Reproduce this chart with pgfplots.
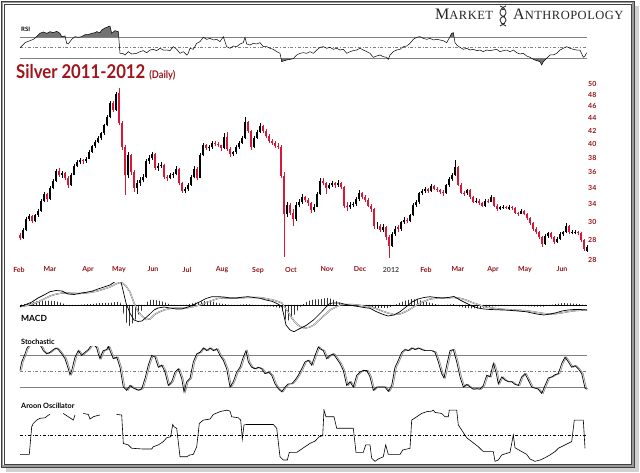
\documentclass[border=0pt]{standalone}
\usepackage{graphicx}
\usepackage{pgfplots}
\pgfplotsset{compat=1.18}
\usepackage{pgfplotstable}
\usepackage{fontspec}
\usetikzlibrary{patterns}
\newfontfamily\lato{Lato}
\newfontfamily\libser{Liberation Serif}
\definecolor{titlered}{RGB}{160,22,28}
\definecolor{tickred}{RGB}{150,20,25}
\definecolor{candlered}{RGB}{215,25,55}

\pgfplotstableread{
x o h l c
20 28.5 28.7 28.0 28.2
23 28.2 29.3 28.1 29.1
26 29.1 30.5 29.0 30.3
29 30.3 30.8 30.1 30.6
32 30.6 30.7 29.8 30.0
35 30.0 30.9 29.9 30.7
38 30.7 31.4 30.5 31.2
41 31.2 32.6 31.1 32.4
44 32.4 33.5 32.2 33.2
47 33.2 33.3 32.3 32.6
50 32.6 34.2 32.5 34.0
53 34.0 35.1 33.8 34.9
56 34.9 36.5 34.8 36.2
59 36.2 36.6 35.4 35.7
62 35.7 36.2 35.3 35.9
65 35.9 36.1 35.0 35.3
68 35.3 35.5 34.0 34.3
71 34.3 35.9 34.2 35.7
74 35.7 37.1 35.6 36.9
77 36.9 37.7 36.7 37.4
80 37.4 38.0 37.1 37.7
83 37.7 37.9 37.1 37.5
86 37.5 38.1 37.3 37.9
89 37.9 39.2 37.8 38.9
92 38.9 39.9 38.7 39.7
95 39.7 40.6 39.4 40.3
98 40.3 41.2 40.1 40.9
101 40.9 41.9 40.6 41.6
104 41.6 43.1 41.4 42.9
107 42.9 44.5 42.7 44.2
110 44.2 46.9 44.0 46.6
113 46.6 47.0 45.0 45.4
116 45.4 48.6 45.2 48.1
119 48.4 49.3 42.9 43.2
122 43.2 43.6 39.2 39.5
125 39.5 39.9 33.1 35.6
128 35.6 38.8 35.2 38.4
131 38.4 38.6 35.7 36.0
134 36.0 36.3 33.5 34.0
137 34.0 35.0 33.2 34.6
140 34.6 35.4 34.2 35.0
143 35.0 35.8 34.7 35.4
146 35.4 37.9 35.2 37.6
149 37.6 38.4 37.2 38.0
152 38.0 38.9 37.7 38.6
155 38.6 38.7 36.3 36.6
158 36.6 37.3 36.2 36.9
161 36.9 37.4 36.6 37.0
164 37.0 37.1 35.1 35.4
167 35.4 35.7 34.9 35.3
170 35.3 35.9 35.1 35.6
173 35.6 36.1 35.3 35.8
176 35.8 36.8 35.6 36.5
179 36.5 36.6 34.4 34.6
182 34.6 34.8 33.4 33.6
185 33.6 34.1 33.3 33.8
188 33.8 34.6 33.6 34.4
191 34.4 35.6 34.2 35.4
194 35.4 36.8 35.2 36.5
197 36.5 36.7 35.0 35.3
200 35.3 38.7 35.2 38.4
203 38.4 40.2 38.3 39.9
206 39.9 40.0 39.1 39.4
209 39.4 39.9 39.0 39.5
212 39.5 40.5 39.3 40.2
215 40.2 40.4 39.7 40.0
218 40.0 40.3 39.5 39.8
221 39.8 39.9 39.0 39.4
224 39.4 41.6 39.3 41.1
227 41.1 41.9 39.0 39.3
230 39.3 39.5 38.1 38.5
233 38.5 39.0 38.2 38.8
236 38.8 39.8 38.6 39.5
239 39.5 40.4 39.3 40.2
242 40.2 41.2 40.0 40.9
245 40.9 44.2 40.8 43.4
248 43.4 43.6 41.7 42.0
251 42.0 42.2 39.2 39.6
254 39.6 41.2 39.4 40.9
257 40.9 42.1 40.7 41.8
260 41.8 43.2 41.6 42.8
263 42.8 43.0 41.7 42.0
266 42.0 42.3 40.9 41.2
269 41.2 41.5 40.2 40.5
272 40.5 40.8 39.8 40.1
275 40.1 40.4 39.4 39.7
278 39.7 40.1 39.3 39.6
281 39.6 39.8 35.2 35.5
284 35.5 36.0 26.3 30.8
287 30.8 32.3 30.5 31.9
290 31.9 32.1 30.7 31.0
293 31.0 31.4 29.5 30.3
296 30.3 32.2 30.1 31.9
299 31.9 32.6 31.6 32.2
302 32.2 33.2 32.0 32.8
305 32.8 33.0 32.2 32.5
308 32.5 32.7 31.8 32.1
311 32.1 32.3 31.0 31.3
314 31.3 32.0 31.1 31.7
317 31.7 33.5 31.6 33.2
320 33.2 35.3 33.1 34.9
323 34.9 35.2 34.3 34.6
326 34.6 34.8 33.2 34.0
329 34.0 34.6 33.8 34.3
332 34.3 34.9 34.1 34.6
335 34.6 34.8 34.0 34.3
338 34.3 35.0 34.1 34.6
341 34.6 34.8 33.8 34.1
344 34.1 34.2 31.5 31.8
347 31.8 32.2 31.2 31.6
350 31.6 32.3 31.4 31.9
353 31.9 32.3 31.7 32.0
356 32.0 32.9 31.8 32.6
359 32.6 33.7 32.4 33.3
362 33.3 33.5 32.6 32.9
365 32.9 33.1 32.2 32.5
368 32.5 32.7 31.6 31.8
371 31.8 32.0 31.1 31.4
374 31.4 31.5 29.2 29.5
377 29.5 29.9 29.2 29.5
380 29.5 29.7 28.9 29.1
383 29.1 29.7 28.9 29.4
386 29.4 29.5 28.0 28.3
389 28.3 28.5 26.2 27.4
392 27.4 28.8 27.3 28.6
395 28.6 29.5 28.4 29.2
398 29.4 29.6 28.8 29.2
401 29.2 30.1 29.0 29.9
404 29.9 30.5 29.7 30.2
407 30.2 30.4 29.8 30.0
410 30.0 30.9 29.9 30.7
413 30.7 32.1 30.6 31.9
416 31.9 32.5 31.7 32.2
419 32.2 33.5 32.0 33.3
422 33.3 33.9 33.1 33.6
425 33.6 34.1 33.4 33.8
428 33.8 34.0 33.3 33.6
431 33.6 34.5 33.5 34.2
434 34.2 34.4 33.7 33.9
437 33.9 34.1 33.5 33.7
440 33.7 33.9 33.2 33.5
443 33.5 33.7 33.0 33.3
446 33.3 34.5 33.2 34.3
449 34.3 35.4 34.1 35.1
452 35.1 35.9 34.9 35.6
455 35.6 37.7 35.5 36.7
458 36.7 36.8 34.2 34.4
461 34.4 34.6 33.2 33.4
464 33.4 33.6 33.0 33.3
467 33.3 33.9 33.1 33.7
470 33.7 33.8 32.6 32.8
473 32.8 33.0 32.1 32.3
476 32.3 32.7 32.1 32.4
479 32.4 32.6 31.9 32.1
482 32.1 32.3 31.6 31.8
485 31.8 32.6 31.7 32.4
488 32.4 32.6 32.1 32.3
491 32.3 33.1 32.2 32.8
494 32.8 32.9 31.6 31.8
497 31.8 32.0 31.2 31.4
500 31.4 31.8 31.3 31.6
503 31.6 31.9 31.4 31.7
506 31.7 31.8 31.4 31.6
509 31.4 31.9 31.3 31.6
512 31.6 31.8 31.3 31.5
515 31.5 31.6 30.8 31.0
518 31.0 31.1 30.6 30.9
521 30.9 31.4 30.8 31.2
524 31.2 31.3 30.7 30.9
527 30.9 31.0 30.2 30.4
530 30.4 30.5 29.6 29.8
533 29.8 29.9 29.0 29.2
536 29.2 29.4 28.6 28.8
539 28.8 29.0 28.1 28.3
542 28.3 28.4 27.3 27.6
545 27.6 28.6 27.5 28.4
548 28.4 28.9 28.2 28.7
551 28.7 28.8 28.1 28.3
554 28.3 28.4 27.6 27.8
557 27.8 28.3 27.7 28.1
560 28.1 28.8 28.0 28.6
563 28.6 29.0 28.4 28.8
566 28.8 29.8 28.7 29.5
569 29.5 29.6 28.6 28.8
572 28.8 29.1 28.6 28.9
575 28.7 29.1 28.6 28.9
578 28.9 29.0 28.5 28.7
581 28.7 28.8 27.8 28.0
584 28.0 28.1 26.9 27.1
587 26.9 27.5 26.8 27.3
}\price

\pgfplotstableread{
x r
20 50
25 59.4
30 63.1
33.3 65.6
36 69.4
40 76.9
43.3 79.4
46.7 76.9
50 80
53.3 78.1
56.7 80.6
60 76.9
61.7 70.6
65 71.9
66.7 58.1
68.3 56.9
71.7 65.6
75 70.6
78.3 69.4
81.7 70.6
85 74.4
88.3 74.4
91.7 76.9
95 78.1
96.7 80
100 78.1
101.7 83.1
105 86.9
108.3 89.4
110 90.6
111.7 76.9
115 81.9
118.3 80
120 39.4
122.7 39.4
125 36.3
128.3 42.5
131.7 38.1
136.7 39.4
140 42.5
143.3 44.4
146.7 40.6
150 45.6
153.3 46.9
156.7 44.4
160 48.8
163.3 45.6
166.7 45.6
170 44.4
173.3 51.9
176.7 46.9
180 39.4
183.3 42.5
186.7 36.3
188.3 39.4
190 48.8
193.3 46.9
196.7 58.1
200 61.3
203.3 69.4
206.7 65.6
210 67.5
213.3 64.4
216.7 65.6
220 61.3
223.3 70.6
226.7 51.9
230 48.8
233.3 53.1
236.7 51.9
240 56.9
243.3 59.4
245 69.4
246.7 56.9
250 55
253.3 58.1
256.7 56.9
260 59.4
263.3 51.9
266.7 51.9
270 48.8
273.3 46.9
276.7 42.5
280 39.4
281.7 23.8
283.3 25
286.7 26.9
290 28.1
293.3 29.4
296.7 36.3
300 39.4
303.3 40.6
306.7 39.4
310 42.5
313.3 39.4
316.7 45.6
320 50.6
323.3 51.9
326.7 48.8
330 50.6
333.3 46.9
336.7 48.8
340 45.6
343.3 46.9
346.7 39.4
350 42.5
353.3 44.4
356.7 45.6
360 48.8
363.3 45.6
366.7 42.5
370 39.4
373.3 31.9
376.7 34.4
380 36.3
383.3 33.1
386.7 31.9
388.3 28.1
390 36.3
393.3 42.5
396.7 45.6
400 46.9
403.3 51.9
406.7 53.1
410 58.1
413.3 65.6
416.7 69.4
420 70.6
423.3 67.5
426.7 65.6
430 67.5
433.3 64.4
436.7 65.6
440 64.4
443.3 63.1
446.7 59.4
450 70.6
451.7 76.9
453.3 78.1
455 59.4
456.7 55
460 50.6
463.3 46.9
466.7 48.8
470 45.6
473.3 46.9
476.7 44.4
480 45.6
483.3 42.5
486.7 45.6
490 44.4
493.3 45.6
496.7 46.9
500 42.5
503.3 44.4
506.7 45.6
510 42.5
513.3 45.6
516.7 40.6
520 38.1
523.3 39.4
526.7 34.4
530 31.9
533.3 28.1
536.7 25.6
540 23.8
541.7 17.5
543.3 23.8
546.7 30
550 36.3
553.3 36.3
556.7 39.4
560 45.6
563.3 48.8
566.7 51.9
570 48.8
573.3 46.9
576.7 45.6
580 45.6
583.3 31.9
585 34.4
586.7 40.6
}\rsi

\pgfplotstableread{
x m s
20 -0.17 -0.17
26 0.05 -0.07
32 0.3 0.08
38 0.7 0.3
44 1.0 0.6
50 1.33 0.9
56 1.45 1.08
62 1.4 1.2
68 1.1 1.2
74 1.05 1.17
80 1.17 1.15
86 1.27 1.2
92 1.38 1.29
98 1.6 1.41
104 1.8 1.6
110 2.0 1.8
116 2.4 2.1
120 2.6 2.25
122 1.9 2.2
126 0.2 1.9
130 -0.83 1.3
134 -1.5 0.2
138 -1.65 -0.65
142 -1.6 -1.1
146 -1.25 -1.45
150 -0.9 -1.4
154 -0.5 -1.0
158 -0.3 -0.75
164 -0.2 -0.5
170 -0.3 -0.35
176 -0.4 -0.3
182 -0.4 -0.3
188 -0.2 -0.27
194 0.05 -0.15
200 0.33 0.0
206 0.65 0.25
212 0.83 0.45
218 0.83 0.65
224 0.8 0.7
230 0.7 0.7
236 0.7 0.7
242 0.78 0.72
248 0.83 0.75
254 0.75 0.75
260 0.67 0.75
266 0.5 0.65
272 0.37 0.52
278 0.1 0.35
282 -0.2 0.2
286 -2.0 -0.4
290 -2.5 -1.0
294 -2.67 -1.6
298 -2.45 -2.0
302 -2.25 -2.25
306 -2.05 -2.3
310 -1.75 -2.2
314 -1.45 -2.0
318 -1.05 -1.6
322 -0.65 -1.25
326 -0.2 -0.9
330 0.17 -0.5
334 0.2 -0.3
340 0.2 0.0
346 0.05 0.05
352 -0.05 0.05
358 -0.15 0.0
364 -0.25 -0.1
370 -0.33 -0.2
376 -0.65 -0.35
382 -0.9 -0.6
388 -1.1 -0.8
394 -1.0 -0.95
400 -0.67 -0.9
406 -0.2 -0.65
412 0.3 -0.3
418 0.6 0.1
424 0.75 0.35
430 0.83 0.6
436 0.75 0.68
442 0.7 0.7
448 0.75 0.72
454 0.85 0.75
460 0.5 0.68
466 0.2 0.5
472 -0.1 0.25
478 -0.3 0.05
484 -0.4 -0.15
490 -0.45 -0.28
496 -0.47 -0.35
502 -0.5 -0.42
508 -0.52 -0.46
514 -0.57 -0.5
520 -0.62 -0.53
526 -0.67 -0.56
532 -0.8 -0.65
538 -0.92 -0.75
544 -1.0 -0.85
550 -0.9 -0.9
556 -0.78 -0.87
562 -0.6 -0.78
568 -0.5 -0.67
574 -0.45 -0.58
580 -0.45 -0.53
587 -0.5 -0.5
}\macd

\pgfplotstableread{
x k
20 51
21.7 67
25 82
26.7 91.5
29 98
33 100
38 100
41 96
43.3 88
46.7 82
50 85
53.3 90
56 93
58.3 90
61.7 82
65 73
68.3 54
70 43
71.7 51
75 76
78.3 88
81.7 79
85 85
88.3 90
91 97
94 98
96.5 94
98.3 82
100 73
101.7 82
103.3 88
106.7 90
108.3 96
110 88
113.3 73
116.7 76
120 57
123.3 20
126.7 14
130 23
133.3 18
138.3 14
141.7 17
145 36
148.3 61
151.7 79
155 76
158.3 57
161.7 61
165 48
168.3 23
171.7 30
175 48
178.3 54
181.7 36
184 11
186.7 30
190 36
193.3 67
196.7 82
200 85
203.3 93
206.7 88
210 93
213.3 88
216.7 91.5
220 79
223.3 70
226.7 54
230 20
233.3 30
236.7 48
240 57
243.3 76
246 88
248.3 67
251.7 57
255 54
258.3 57
261.7 54
265 45
268.3 48
271.7 42
275 26
278.3 17
281.7 11
285 20
288.3 26
291.7 26
295 33
298.3 42
301.7 54
305 67
308.3 70
311.7 61
315 79
318.3 95
320 91.5
323.3 88
326.7 73
330 79
333.3 82
336.7 73
340 64
343.3 51
346.7 23
350 30
353.3 20
356.7 42
360 48
363.3 51
366.7 51
370 39
373.3 14
376.7 20
380 20
385 20
388.3 12
391.7 23
395 57
398.3 70
401.7 85
405 90
408.3 88
411.7 93
415 90
418.3 93
421.7 90
425 88
428.3 88
431.7 88
435 85
438.3 67
441.7 45
444 37
446.7 61
450 88
453.3 90
456.7 67
460 39
463.3 20
466.7 25
470 20
473.3 16
476.7 17
480 16
483.3 23
486.7 42
490 39
493.3 64
496 48
498.3 26
501.7 39
505 33
508.3 30
511.7 30
515 25
518.3 23
521.7 39
525 45
528.3 33
531.7 20
535 18
538.3 16
541.7 8
545 23
548.3 37
551.7 39
555 43
558.3 45
561.7 64
565 76
568.3 67
571.7 57
575 60
578.3 54
581.7 45
585 18
586.7 16
}\stoch

\pgfplotstableread{
x a
20 -73
29.3 -73
31.7 35
33.3 48
36.7 61
40 68
45 70
48.3 80
50 83
56 nan
63.3 87
66.7 78
70 70
73.3 61
75 81
79 nan
83.3 87
88.3 83
90 65
93.3 74
96.7 78
100 81
108 nan
116.7 83
121.7 81
123.3 -30
128.3 -36
131.7 -49
143.3 -52
151.7 -52
153.3 -43
158.3 -36
163.3 -23
166.7 -8
170.7 -4
172.7 44
174 35
176.7 29
180 -82
186.7 -82
190 -75
193.3 -73
196.7 -43
199.3 48
203.3 61
210 65
213.3 83
220 94
226.7 100
230 96
231.7 74
238.3 70
240.7 61
242.3 -13
244 42
246.7 44
273.3 44
276.7 29
280 -82
283.3 -95
287.3 -95
289.3 -65
296.7 -65
301.7 -52
305 -43
310 -30
315 -21
319.3 -4
322.7 0
324 100
326 74
334 74
336.7 29
353.3 29
356 -65
363.3 -65
365.7 -36
370 -36
371.7 -88
375 -100
378.3 -91
383.3 -82
385.7 -36
388.3 -73
400 -73
402.7 -56
410 -49
411.7 61
416.7 74
421.7 87
426.7 94
431.7 96
433.3 100
435 91
441.7 87
445 74
448.3 74
449.3 100
456.7 100
458.3 42
461.7 22
466.7 -8
471.7 -23
478.3 -43
483.3 -62
493.3 -62
495 -100
498.3 -95
501.7 -75
510 -65
513.3 3
515 -47
521.7 -62
526.7 -73
530 -91
535 -100
540 -95
545 -86
550 -75
555 -62
558.3 -49
565 -36
571.7 -23
574.3 61
583.3 61
585 -49
}\aroon

\pgfplotsset{
  panel/.style={scale only axis, width=571pt, xmin=18, xmax=589, anchor=south west, hide axis},
  refline/.style={line width=0.5pt, black!50, forget plot},
  wick/.style={draw=none, mark=none, forget plot, restrict x to domain=0:1000,
    error bars/.cd, y dir=plus, y explicit, error mark=none,
    error bar style={line width=0.45pt, draw=#1}},
  body/.style={draw=none, mark=none, forget plot, restrict x to domain=0:1000,
    error bars/.cd, y dir=plus, y explicit, error mark=none,
    error bar style={line width=1.6pt, draw=#1}},
}

\begin{document}
\begin{tikzpicture}
\useasboundingbox (0pt,0pt) rectangle (640pt,472pt);
\begin{scope}[x=1pt,y=1pt]
\fill[white] (0,0) rectangle (640,472);
\fill[black!18] (6,0.5) rectangle (638.5,466);
\fill[white] (1,5) rectangle (634,471);
\draw[black!40, line width=2.4pt] (2.2,6.2) rectangle (632.8,469.8);
\draw[black!75, line width=0.6pt] (4.2,8.2) rectangle (630.8,467.8);
\draw[black!75, line width=0.5pt] (0.8,4.8) rectangle (634.2,471.2);
% logo
\node[anchor=base west, inner sep=0, text=black!85] at (435,452)
  {\libser\addfontfeature{LetterSpace=4}\fontsize{16}{16}\selectfont M\fontsize{12.5}{12.5}\selectfont ARKET};
\node[anchor=base west, inner sep=0, text=black!85] at (513,452)
  {\libser\addfontfeature{LetterSpace=4}\fontsize{16}{16}\selectfont A\fontsize{12.5}{12.5}\selectfont NTHROPOLOGY};
\draw[black!80, line width=0.9pt] (500,466) to[out=-20,in=90] (506,459) to[out=-90,in=90] (500,452) to[out=-90,in=160] (506,446);
\draw[black!80, line width=0.9pt] (506,466) to[out=-160,in=90] (500,459) to[out=-90,in=90] (506,452) to[out=-90,in=20] (500,446);
\draw[black!80, line width=0.4pt] (501.5,462.5) -- (504.5,462.5) (501.5,455.5) -- (504.5,455.5) (501.5,449) -- (504.5,449);
% titles
\node[anchor=base west, inner sep=0] at (16,393)
  {\scalebox{0.88}[1]{\lato\bfseries\color{titlered}\fontsize{19}{19}\selectfont Silver 2011-2012 {\fontsize{10.5}{10.5}\selectfont (Daily)}}};
\node[anchor=west, inner sep=0] at (21,443) {\lato\bfseries\fontsize{6}{6}\selectfont RSI};
\node[anchor=west, inner sep=0] at (21,154) {\lato\bfseries\fontsize{8.5}{8.5}\selectfont MACD};
\node[anchor=west, inner sep=0] at (21,130) {\lato\bfseries\fontsize{7.3}{7.3}\selectfont Stochastic};
\node[anchor=west, inner sep=0] at (21,66) {\lato\bfseries\fontsize{7.3}{7.3}\selectfont Aroon Oscillator};
\end{scope}

% ---------------- RSI ----------------
\begin{axis}[panel, height=48pt, at={(18pt,403pt)}, ymin=10, ymax=100]
\addplot[refline] coordinates {(20,70) (587,70)};
\addplot[refline] coordinates {(20,30) (587,30)};
\addplot[refline, dash dot] coordinates {(20,50) (587,50)};
\begin{scope}
\clip (axis cs:18,70) rectangle (axis cs:589,100);
\addplot[fill=black!55, draw=none, forget plot] table[x=x,y=r]{\rsi} \closedcycle;
\end{scope}
\begin{scope}
\clip (axis cs:18,10) rectangle (axis cs:589,30);
\addplot[fill=black!55, draw=none, forget plot] table[x=x,y=r]{\rsi} -- (axis cs:586.7,100) -- (axis cs:20,100) -- cycle;
\end{scope}
\addplot[black, line width=0.5pt] table[x=x,y=r]{\rsi};
\end{axis}

% ---------------- Price ----------------
\begin{axis}[scale only axis, width=571pt, height=186.6pt, at={(18pt,206.75pt)}, anchor=south west,
  xmin=18, xmax=589, ymode=log, ymin=25.5, ymax=51, clip=false,
  axis line style={draw=none}, tick style={draw=none},
  xtick={19,50,88,119,153,187,222,258,291,327,360,391,426,458,493,525,562},
  xticklabels={Feb,Mar,Apr,May,Jun,Jul,Aug,Sep,Oct,Nov,Dec,{\color{black!70}2012},Feb,Mar,Apr,May,Jun},
  xticklabel style={font=\lato\bfseries\fontsize{7}{7}\selectfont, text=tickred, anchor=north, inner sep=0pt, yshift=-1.5pt},
  ytick={26,28,30,32,34,36,38,40,42,44,46,48,50},
  yticklabels={28,28,30,34,34,36,38,40,42,44,46,48,50},
  yticklabel pos=right,
  yticklabel style={font=\lato\bfseries\fontsize{7}{7}\selectfont, text=tickred, anchor=west, inner sep=0pt, xshift=-1pt}]
\addplot[wick=black] table[x expr={\thisrow{c}>=\thisrow{o} ? \thisrow{x} : -100}, y=l, y error plus expr={\thisrow{h}-\thisrow{l}}] {\price};
\addplot[wick=candlered] table[x expr={\thisrow{c}<\thisrow{o} ? \thisrow{x} : -100}, y=l, y error plus expr={\thisrow{h}-\thisrow{l}}] {\price};
\addplot[body=black] table[x expr={\thisrow{c}>=\thisrow{o} ? \thisrow{x} : -100}, y=o, y error plus expr={\thisrow{c}-\thisrow{o}}] {\price};
\addplot[body=candlered] table[x expr={\thisrow{c}<\thisrow{o} ? \thisrow{x} : -100}, y=c, y error plus expr={\thisrow{o}-\thisrow{c}}] {\price};
\end{axis}

% ---------------- MACD ----------------
\begin{axis}[panel, height=51pt, at={(18pt,138pt)}, ymin=-2.9, ymax=2.2]
\addplot[draw=none, pattern=vertical lines, pattern color=black!80, forget plot] table[x=x, y expr={\thisrow{m}-\thisrow{s}}]{\macd} \closedcycle;
\addplot[black, line width=0.6pt] coordinates {(20,0) (587,0)};
\addplot[draw=black!70, line width=0.35pt, double=white, double distance=0.5pt] table[x=x,y=s]{\macd};
\addplot[black, line width=0.7pt] table[x=x,y=m]{\macd};
\end{axis}

% ---------------- Stochastic ----------------
\begin{axis}[panel, height=48.2pt, at={(18pt,76.9pt)}, ymin=5, ymax=95]
\addplot[refline] coordinates {(20,80) (587,80)};
\addplot[refline] coordinates {(20,20) (587,20)};
\addplot[refline, dash dot] coordinates {(20,50) (587,50)};
\addplot[black!45, line width=0.7pt] table[x expr=\thisrow{x}+1.5, y=k]{\stoch};
\addplot[black, line width=0.7pt] table[x=x,y=k]{\stoch};
\end{axis}

% ---------------- Aroon ----------------
\begin{axis}[panel, height=53pt, at={(18pt,9.4pt)}, ymin=-105, ymax=102, unbounded coords=jump]
\addplot[black, line width=0.5pt, dash dot] coordinates {(20,0) (587,0)};
\addplot[black, line width=0.6pt] table[x=x,y=a]{\aroon};
\end{axis}
\end{tikzpicture}
\end{document}
